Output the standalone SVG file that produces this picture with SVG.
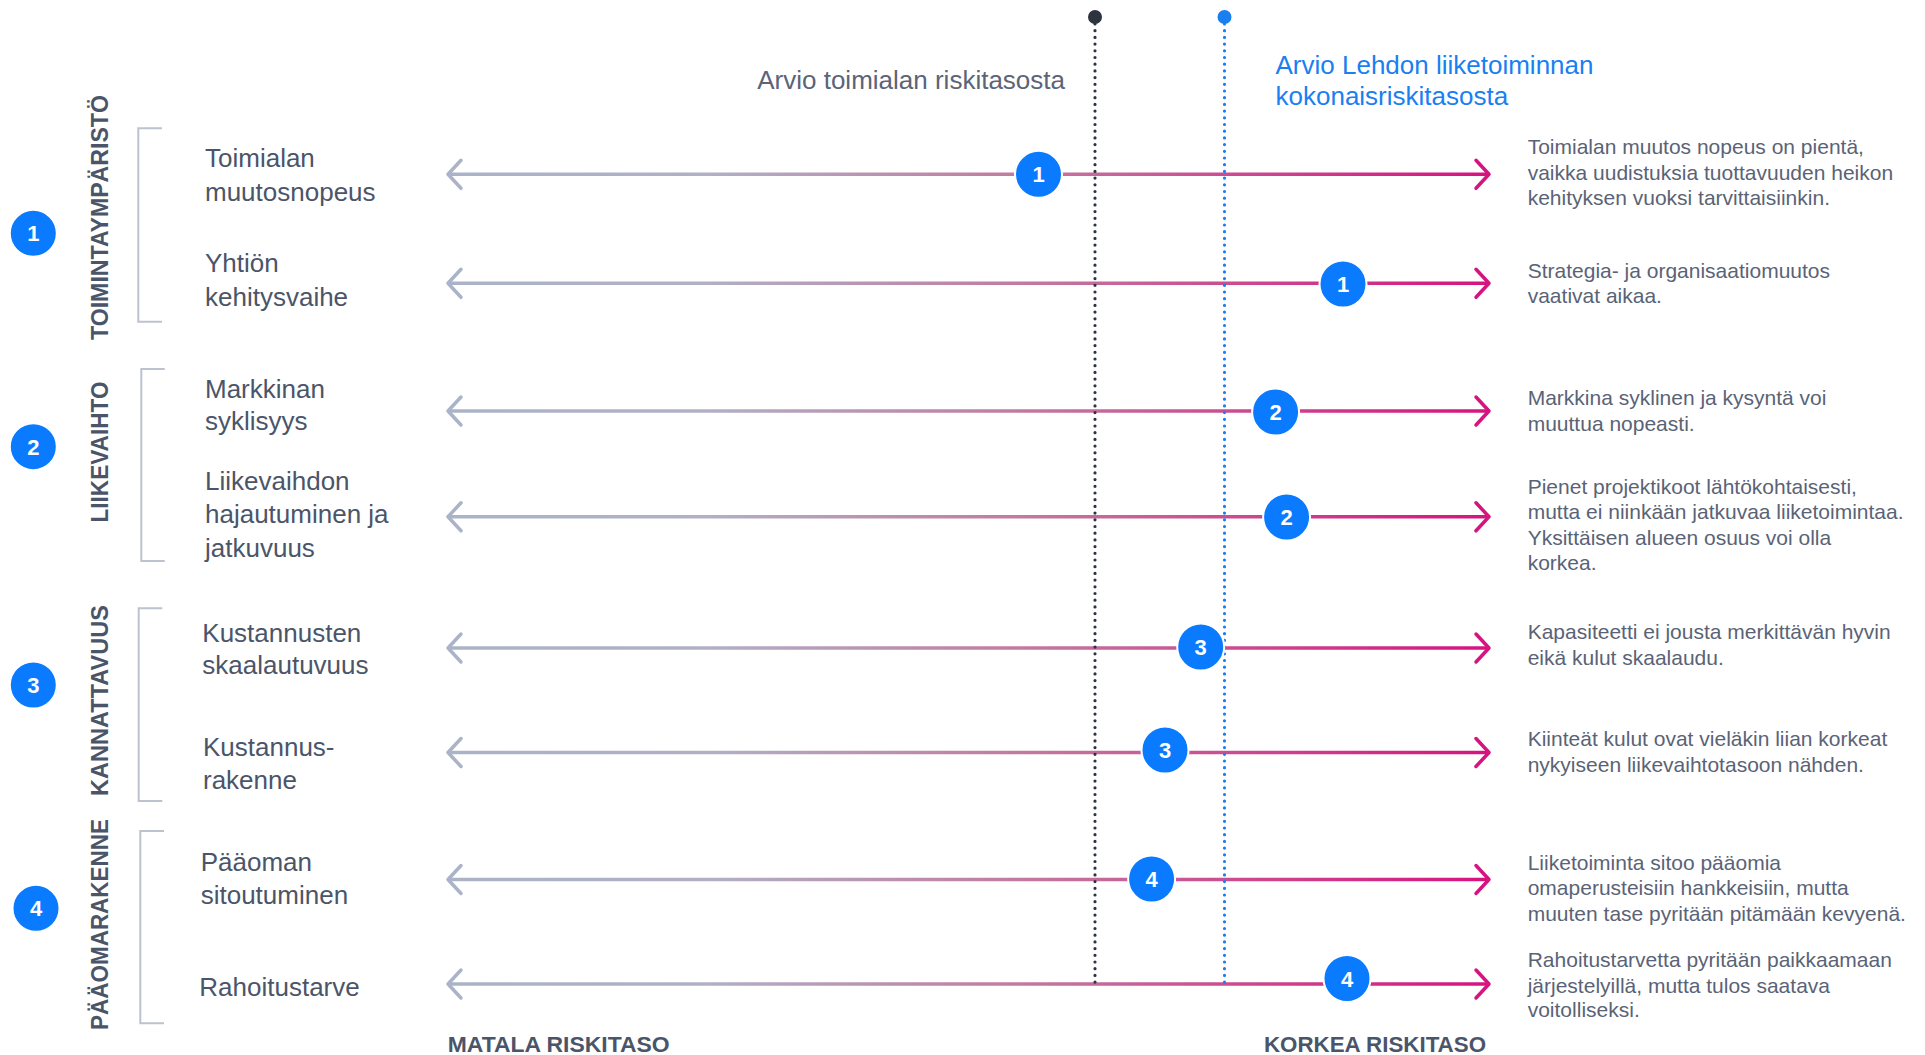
<svg xmlns="http://www.w3.org/2000/svg" width="1925" height="1055" viewBox="0 0 1925 1055">
<style>
.lbl{font-family:"Liberation Sans",Arial,sans-serif;font-size:26px;fill:#4b5569}
.cat{font-family:"Liberation Sans",Arial,sans-serif;font-size:23px;font-weight:bold;fill:#4b5569}
.desc{font-family:"Liberation Sans",Arial,sans-serif;font-size:21px;fill:#5a6376}
.hdr{font-family:"Liberation Sans",Arial,sans-serif;font-size:26px}
.axis{font-family:"Liberation Sans",Arial,sans-serif;font-size:22px;font-weight:bold;fill:#4b5569}
.num{font-family:"Liberation Sans",Arial,sans-serif;font-size:22px;font-weight:bold;fill:#fff;text-anchor:middle}
.badge{fill:#0a7aff;stroke:#fff;stroke-width:2}
.bracket{fill:none;stroke:#bcc2ce;stroke-width:2}
.scale{fill:none;stroke:url(#grad);stroke-width:3.5;marker-start:url(#arrL);marker-end:url(#arrR)}
</style>
<defs>
<linearGradient id="grad" gradientUnits="userSpaceOnUse" x1="448" y1="0" x2="1489" y2="0">
<stop offset="0" stop-color="#aab3c8"/>
<stop offset="0.25" stop-color="#b1b0c5"/>
<stop offset="0.55" stop-color="#c27a9f"/>
<stop offset="1" stop-color="#d6137f"/>
</linearGradient>
<marker id="arrR" markerUnits="userSpaceOnUse" viewBox="-18 -18 22 36" markerWidth="22" markerHeight="36" refX="0" refY="0" orient="auto">
<path d="M-13,-14 L0,0 L-13,14" fill="none" stroke="#d4157f" stroke-width="3.5" stroke-linecap="round" stroke-linejoin="round"/>
</marker>
<marker id="arrL" markerUnits="userSpaceOnUse" viewBox="-18 -18 22 36" markerWidth="22" markerHeight="36" refX="0" refY="0" orient="auto-start-reverse">
<path d="M-13,-14 L0,0 L-13,14" fill="none" stroke="#aab3c8" stroke-width="3.5" stroke-linecap="round" stroke-linejoin="round"/>
</marker>
</defs>
<rect width="1925" height="1055" fill="#fff"/>

<g id="headers">
<text class="hdr" x="1065" y="88.5" text-anchor="end" fill="#5b6478">Arvio toimialan riskitasosta</text>
<text class="hdr" x="1275.5" y="74" fill="#1a7ff0">Arvio Lehdon liiketoiminnan</text>
<text class="hdr" x="1275.5" y="105" fill="#1a7ff0">kokonaisriskitasosta</text>
</g>

<g id="connectors">
<line class="scale" x1="448" y1="174.3" x2="1489" y2="174.3"/>
<line class="scale" x1="448" y1="283.3" x2="1489" y2="283.3"/>
<line class="scale" x1="448" y1="411" x2="1489" y2="411"/>
<line class="scale" x1="448" y1="516.8" x2="1489" y2="516.8"/>
<line class="scale" x1="448" y1="648" x2="1489" y2="648"/>
<line class="scale" x1="448" y1="752.5" x2="1489" y2="752.5"/>
<line class="scale" x1="448" y1="879.5" x2="1489" y2="879.5"/>
<line class="scale" x1="448" y1="984" x2="1489" y2="984"/>
<line x1="1095" y1="24" x2="1095" y2="984" stroke="#2d3440" stroke-width="3.2" stroke-dasharray="0 6.7" stroke-linecap="round"/>
<circle cx="1095" cy="17" r="7" fill="#2d3440"/>
<line x1="1224.5" y1="24" x2="1224.5" y2="984" stroke="#1a7ff0" stroke-width="3.2" stroke-dasharray="0 6.7" stroke-linecap="round"/>
<circle cx="1224.5" cy="17" r="7" fill="#1a7ff0"/>
</g>

<g id="cat1">
<circle class="badge" cx="33.3" cy="233.3" r="23.5"/><text class="num" x="33.3" y="241.3">1</text>
<text class="cat" transform="translate(107.5,217.5) rotate(-90)" text-anchor="middle" textLength="245" lengthAdjust="spacingAndGlyphs">TOIMINTAYMPÄRISTÖ</text>
<path class="bracket" d="M162,128.3 H138.3 V321.7 H162"/>
</g>
<g id="cat2">
<circle class="badge" cx="33.3" cy="446.7" r="23.5"/><text class="num" x="33.3" y="454.7">2</text>
<text class="cat" transform="translate(107.5,452) rotate(-90)" text-anchor="middle" textLength="141" lengthAdjust="spacingAndGlyphs">LIIKEVAIHTO</text>
<path class="bracket" d="M164.7,369 H141.3 V561 H164.7"/>
</g>
<g id="cat3">
<circle class="badge" cx="33.3" cy="685" r="23.5"/><text class="num" x="33.3" y="693">3</text>
<text class="cat" transform="translate(107.5,700.5) rotate(-90)" text-anchor="middle" textLength="191" lengthAdjust="spacingAndGlyphs">KANNATTAVUUS</text>
<path class="bracket" d="M162.3,608.3 H138.7 V801 H162.3"/>
</g>
<g id="cat4">
<circle class="badge" cx="36" cy="908.3" r="23.5"/><text class="num" x="36" y="916.3">4</text>
<text class="cat" transform="translate(107.5,924.5) rotate(-90)" text-anchor="middle" textLength="211" lengthAdjust="spacingAndGlyphs">PÄÄOMARAKENNE</text>
<path class="bracket" d="M164,831 H140.3 V1023.3 H164"/>
</g>

<g id="row1">
<text class="lbl" x="205" y="166.7">Toimialan</text>
<text class="lbl" x="205" y="201">muutosnopeus</text>
<circle class="badge" cx="1038.5" cy="174.3" r="23.5"/><text class="num" x="1038.5" y="182.3">1</text>
<text class="desc" x="1527.7" y="154">Toimialan muutos nopeus on pientä,</text>
<text class="desc" x="1527.7" y="180">vaikka uudistuksia tuottavuuden heikon</text>
<text class="desc" x="1527.7" y="205">kehityksen vuoksi tarvittaisiinkin.</text>
</g>
<g id="row2">
<text class="lbl" x="205" y="272.3">Yhtiön</text>
<text class="lbl" x="205" y="306">kehitysvaihe</text>
<circle class="badge" cx="1343" cy="284" r="23.5"/><text class="num" x="1343" y="292">1</text>
<text class="desc" x="1527.7" y="278.3">Strategia- ja organisaatiomuutos</text>
<text class="desc" x="1527.7" y="303.3">vaativat aikaa.</text>
</g>
<g id="row3">
<text class="lbl" x="205" y="398.3">Markkinan</text>
<text class="lbl" x="205" y="430">syklisyys</text>
<circle class="badge" cx="1275.6" cy="412" r="23.5"/><text class="num" x="1275.6" y="420">2</text>
<text class="desc" x="1527.7" y="405">Markkina syklinen ja kysyntä voi</text>
<text class="desc" x="1527.7" y="431">muuttua nopeasti.</text>
</g>
<g id="row4">
<text class="lbl" x="205" y="490">Liikevaihdon</text>
<text class="lbl" x="205" y="522.7">hajautuminen ja</text>
<text class="lbl" x="205" y="556.7">jatkuvuus</text>
<circle class="badge" cx="1286.6" cy="517" r="23.5"/><text class="num" x="1286.6" y="525">2</text>
<text class="desc" x="1527.7" y="494.3">Pienet projektikoot lähtökohtaisesti,</text>
<text class="desc" x="1527.7" y="519.3">mutta ei niinkään jatkuvaa liiketoimintaa.</text>
<text class="desc" x="1527.7" y="545">Yksittäisen alueen osuus voi olla</text>
<text class="desc" x="1527.7" y="570">korkea.</text>
</g>
<g id="row5">
<text class="lbl" x="202.3" y="641.7">Kustannusten</text>
<text class="lbl" x="202.3" y="674.3">skaalautuvuus</text>
<circle class="badge" cx="1200.7" cy="647" r="23.5"/><text class="num" x="1200.7" y="655">3</text>
<text class="desc" x="1527.7" y="639.3">Kapasiteetti ei jousta merkittävän hyvin</text>
<text class="desc" x="1527.7" y="665">eikä kulut skaalaudu.</text>
</g>
<g id="row6">
<text class="lbl" x="203" y="756">Kustannus-</text>
<text class="lbl" x="203" y="789.3">rakenne</text>
<circle class="badge" cx="1165" cy="750" r="23.5"/><text class="num" x="1165" y="758">3</text>
<text class="desc" x="1527.7" y="746">Kiinteät kulut ovat vieläkin liian korkeat</text>
<text class="desc" x="1527.7" y="771.7">nykyiseen liikevaihtotasoon nähden.</text>
</g>
<g id="row7">
<text class="lbl" x="200.7" y="870.7">Pääoman</text>
<text class="lbl" x="200.7" y="904">sitoutuminen</text>
<circle class="badge" cx="1151.6" cy="879" r="23.5"/><text class="num" x="1151.6" y="887">4</text>
<text class="desc" x="1527.7" y="870">Liiketoiminta sitoo pääomia</text>
<text class="desc" x="1527.7" y="895">omaperusteisiin hankkeisiin, mutta</text>
<text class="desc" x="1527.7" y="920.7">muuten tase pyritään pitämään kevyenä.</text>
</g>
<g id="row8">
<text class="lbl" x="199.3" y="995.7">Rahoitustarve</text>
<circle class="badge" cx="1347" cy="978.5" r="23.5"/><text class="num" x="1347" y="986.5">4</text>
<text class="desc" x="1527.7" y="967.3">Rahoitustarvetta pyritään paikkaamaan</text>
<text class="desc" x="1527.7" y="992.7">järjestelyillä, mutta tulos saatava</text>
<text class="desc" x="1527.7" y="1017.3">voitolliseksi.</text>
</g>

<g id="axis-labels">
<text class="axis" x="447.7" y="1051.5" textLength="222" lengthAdjust="spacingAndGlyphs">MATALA RISKITASO</text>
<text class="axis" x="1264" y="1051.5" textLength="222" lengthAdjust="spacingAndGlyphs">KORKEA RISKITASO</text>
</g>
</svg>
